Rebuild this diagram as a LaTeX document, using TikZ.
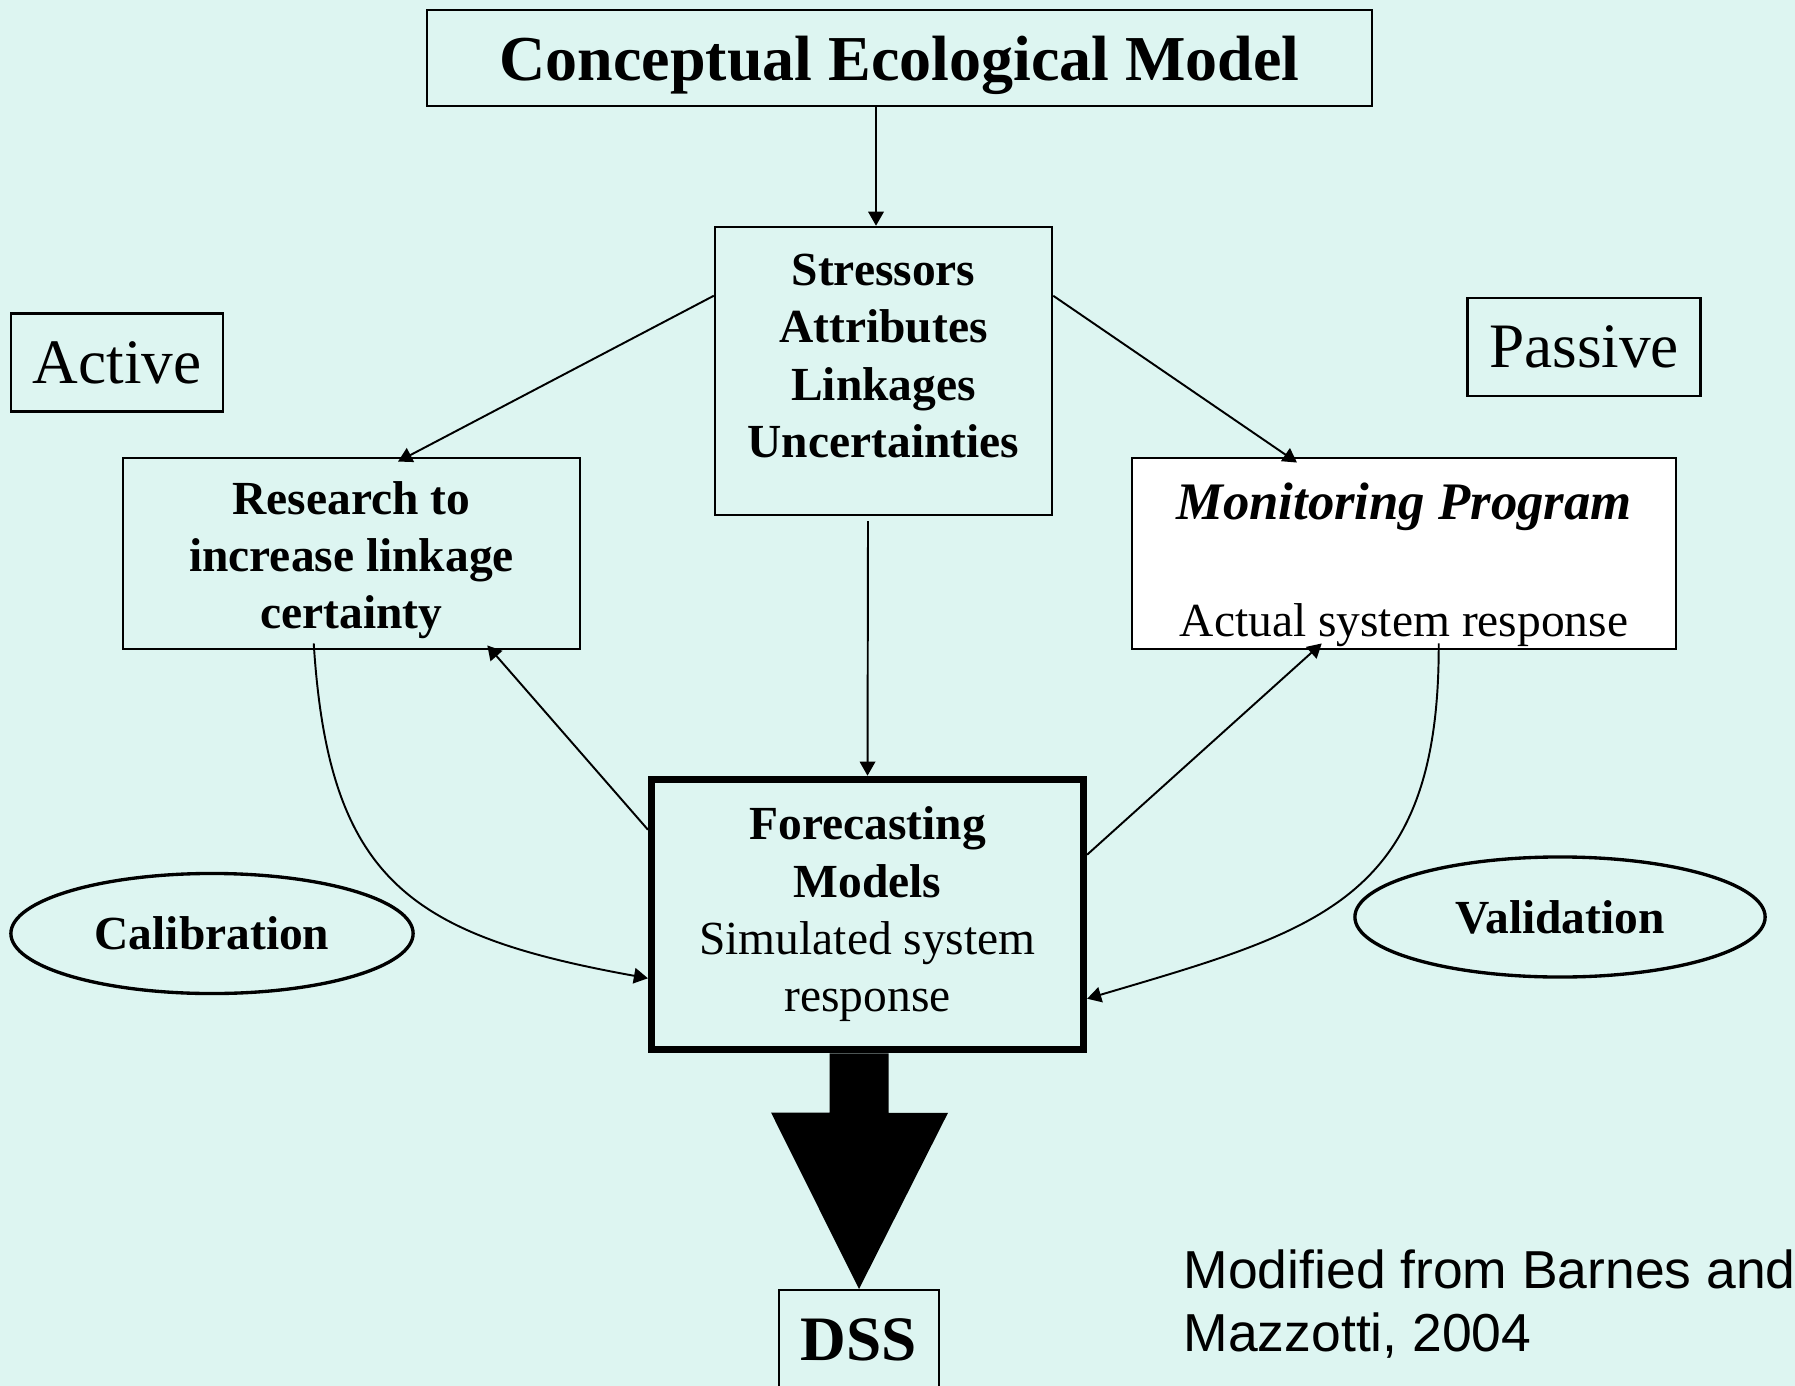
\documentclass[tikz,border=0pt]{standalone}
\usepackage{fontspec}
\setmainfont{Liberation Serif}
\newfontfamily\creditfont{Liberation Sans}
\usetikzlibrary{arrows.meta,calc,shapes.geometric}
\definecolor{slidebg}{RGB}{221,245,241}

\begin{document}
\begin{tikzpicture}[x=0.01cm,y=-0.01cm]
	\tikzstyle{every node}=[font=\fontsize{13.5pt}{16.3pt}\selectfont, inner sep=0pt]
	\tikzstyle{box}=[draw, rectangle, line width=0.65pt]
	\tikzstyle{oval}=[draw, ellipse, line width=0.95pt, font=\fontsize{13.5pt}{16.3pt}\selectfont\bfseries]
	\tikzstyle{link}=[line width=0.55pt, -{Triangle[length=4pt,width=4.4pt]}]
	
	\useasboundingbox (0,0) rectangle (1795,1386);
	\fill[slidebg] (0,0) rectangle (1795,1386);
	
	% boxes
	\node[box, minimum width=9.44cm, minimum height=0.955cm, text depth=0pt, font=\fontsize{18.2pt}{21.8pt}\selectfont\bfseries] (title) at (899.5,58) {Conceptual Ecological Model};
	
	\node[box, minimum width=3.37cm, minimum height=2.88cm] (stress) at (883.5,371) {};
	\node[align=center, font=\fontsize{13.5pt}{16.3pt}\selectfont\bfseries] (stresstext) at (883.5,356) {Stressors\\Attributes\\Linkages\\Uncertainties};
	
	\node[box, minimum width=2.12cm, minimum height=0.98cm, font=\fontsize{18pt}{21.6pt}\selectfont] (active) at (117,362.5) {Active};
	\node[box, minimum width=2.33cm, minimum height=0.98cm, font=\fontsize{18pt}{21.6pt}\selectfont] (passive) at (1584,347) {Passive};
	
	\node[box, minimum width=4.57cm, minimum height=1.915cm] (research) at (351.5,553.5) {};
	\node[align=center, font=\fontsize{13.5pt}{16.3pt}\selectfont\bfseries] (researchtext) at (351.5,560) {Research to\\increase linkage\\certainty};
	
	\node[box, fill=white, minimum width=5.44cm, minimum height=1.915cm] (monitor) at (1404,553.5) {};
	\node[align=center] (monitortext) at (1404,565) {{\fontsize{15pt}{18pt}\selectfont\bfseries\itshape Monitoring Program}\\[17pt]Actual system response};
	
	\node[box, line width=2.1pt, minimum width=4.315cm, minimum height=2.7cm, align=center] (fore) at (867.5,914.5) {\textbf{Forecasting}\\\textbf{Models}\\Simulated system\\response};
	
	\node[oval, minimum width=4.02cm, minimum height=1.2cm] (calib) at (212,933.5) {Calibration};
	\node[oval, minimum width=4.1cm, minimum height=1.2cm] (valid) at (1560,917) {Validation};
	
	\node[box, anchor=north, minimum width=1.6cm, minimum height=1cm, font=\fontsize{18pt}{21.6pt}\selectfont\bfseries] (dss) at (859,1289) {DSS};
	
	\node[anchor=north west, align=left, font=\fontsize{15.2pt}{18pt}\creditfont] (credit) at (1183,1249) {Modified from Barnes and\\Mazzotti, 2004};
	
	% arrows
	\draw[link] ($(title.south)+(-23.5,0)$) -- ($(stress.north)+(-7.5,0)$);
	\draw[link] ($(stress.north west)+(0,70)$) -- ($(research.north)+(46.5,5)$);
	\draw[link] ($(stress.north east)+(0,70)$) -- ($(monitor.north)+(-107,6)$);
	\draw[link] ($(stress.south)+(-15.5,5)$) -- (fore.north);
	\draw[link] ($(fore.north west)+(0,54)$) -- ($(research.south east)+(-94,-5)$);
	\draw[link] ($(fore.north east)+(0,79)$) -- ($(monitor.south west)+(191,-7)$);
	
	\draw[link] ($(research.south west)+(192,-7)$) .. controls +(15,237) and +(-238,-43) .. ($(fore.south west)+(0,-75)$);
	\draw[link] ($(monitor.south west)+(308,-7)$) .. controls +(1,257) and +(233,-69) .. ($(fore.north east)+(0,223)$);
	
	% big arrow to DSS
	\fill (fore.south -| dss.north) ++(-29.5,0) -- ++(59,0) -- ++(0,59.5) -- ++(59.5,0) -- (dss.north) -- ++(-88,-176.5) -- ++(58.5,0) -- cycle;
	
\end{tikzpicture}
\end{document}
